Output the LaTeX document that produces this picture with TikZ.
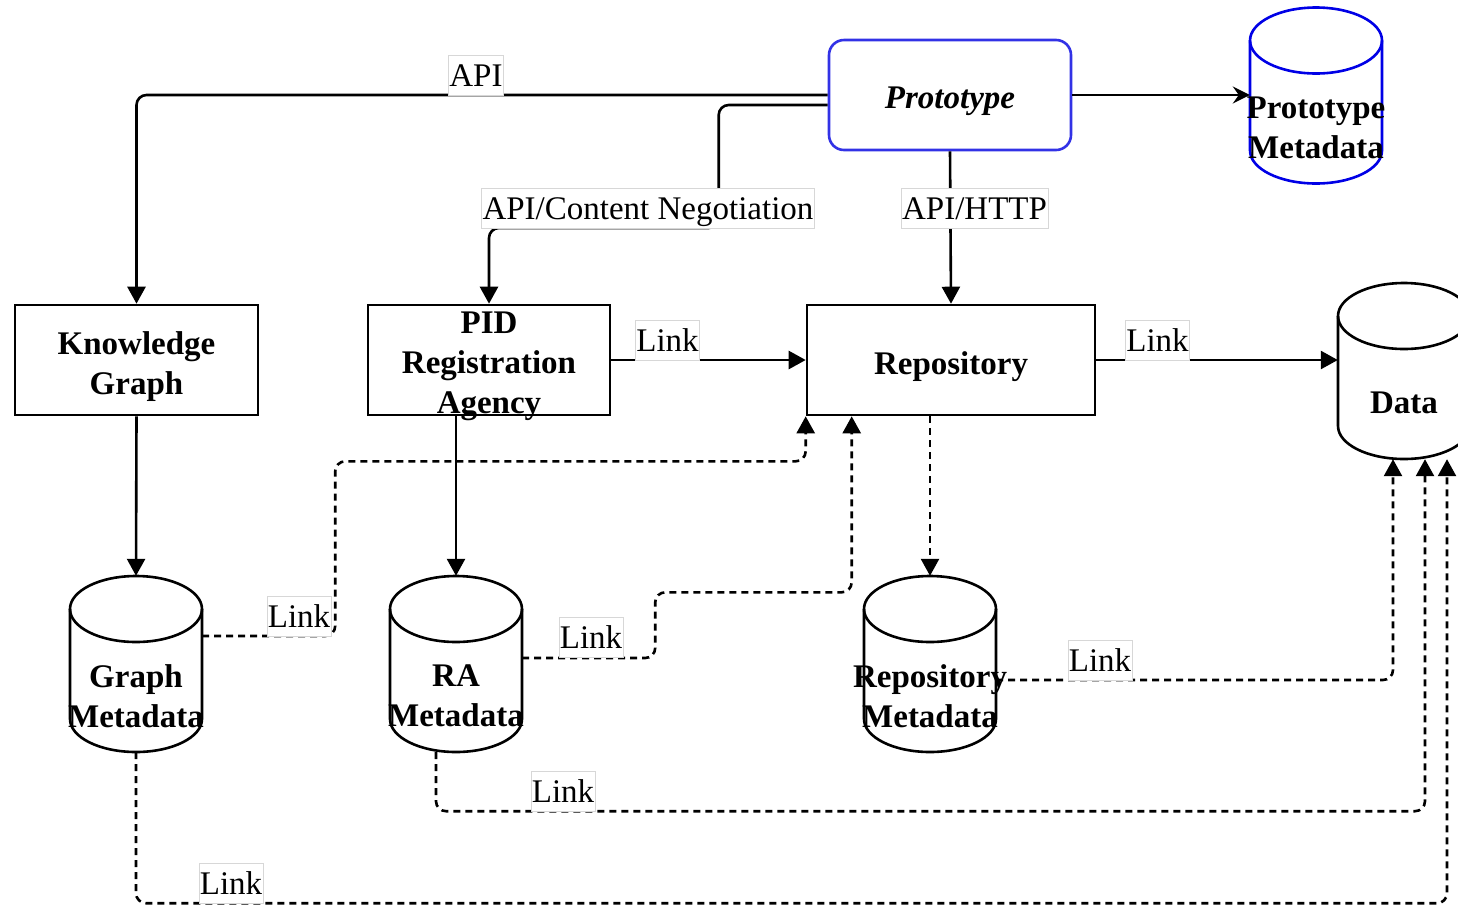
\documentclass[tikz,border=0pt]{standalone}
\usepackage{fontspec}
\setmainfont{Liberation Serif}
\usetikzlibrary{arrows.meta,calc}
\pgfdeclarelayer{bg}
\pgfsetlayers{bg,main}
\definecolor{protoblue}{RGB}{50,50,230}
\definecolor{cylblue}{RGB}{0,0,230}
\definecolor{lblgray}{RGB}{215,215,215}
\newcommand\cylout[2]{%
  \begin{pgfonlayer}{bg}
  \draw[line width=2.6pt,#2] ($(#1.center)+(0,55)$) ellipse [x radius=66pt,y radius=33pt];
  \draw[line width=2.6pt,#2] ($(#1.center)+(-66,55)$) -- ($(#1.center)+(-66,-55)$)
     arc[start angle=180,end angle=360,x radius=66pt,y radius=33pt] -- ($(#1.center)+(66,55)$);
  \end{pgfonlayer}}
\tikzset{
  boxnode/.style={draw, line width=2.6pt, inner sep=0pt, minimum height=110pt},
  boxtext/.style={font=\bfseries\fontsize{33}{40}\selectfont, align=center, inner sep=0pt, yshift=-6.5pt},
  cylbody/.style={draw=none, inner sep=0pt, minimum width=132pt, minimum height=176pt},
  cyltext/.style={font=\bfseries\fontsize{33}{40}\selectfont, align=center, inner sep=0pt, yshift=-32pt},
  lbl/.style={draw=lblgray, line width=0.6pt, fill=white, font=\fontsize{33}{40}\selectfont,
    inner xsep=1pt, inner ysep=0pt, text height=31pt, text depth=9pt, outer sep=0pt, anchor=south},
  conn/.style={line width=2.6pt, -{Triangle[width=18pt,length=17pt]}},
  bent/.style={rounded corners=10pt},
  dconn/.style={conn, dash pattern=on 7pt off 5pt},
}
\begin{document}
\begin{tikzpicture}[x=1pt,y=1pt]
\useasboundingbox (0,0) rectangle (1458,-906);

% main nodes
\node[boxnode, draw=protoblue, rounded corners=15pt, minimum width=242pt,
  label={[boxtext, font=\bfseries\itshape\fontsize{33}{40}\selectfont, name=prototext]center:{Prototype}}] (proto) at (950,-95) {};
\node[boxnode, minimum width=243pt, label={[boxtext,name=kgtext]center:{Knowledge\\Graph}}] (kg) at (136.5,-360) {};
\node[boxnode, minimum width=242pt, label={[boxtext,name=pidtext]center:{PID\\Registration\\Agency}}] (pid) at (489,-360) {};
\node[boxnode, minimum width=288pt, label={[boxtext,name=repotext]center:{Repository}}] (repo) at (951,-360) {};

% cylinders
\node[cylbody, label={[cyltext,name=pmtext]center:{Prototype\\Metadata}}] (pm) at (1316,-95.5) {};
\cylout{pm}{cylblue}
\node[cylbody, label={[cyltext,name=datatext]center:{Data}}] (data) at (1404,-371) {};
\cylout{data}{black}
\node[cylbody, label={[cyltext,name=gmtext]center:{Graph\\Metadata}}] (gm) at (136,-664) {};
\cylout{gm}{black}
\node[cylbody, label={[cyltext,name=ratext]center:{RA\\Metadata}}] (ra) at (456,-664) {};
\cylout{ra}{black}
\node[cylbody, label={[cyltext,name=rmtext]center:{Repository\\Metadata}}] (rm) at (930,-664) {};
\cylout{rm}{black}

% solid connectors
\draw[conn] (proto.west) [bent] -| (kg.north);
\draw[conn] ([yshift=-10pt]proto.west) [bent] -- ++(-109pt,0) -- ++(0,-123pt) -| (pid.north);
\draw[conn] (proto.south) -- (repo.north);
\draw[line width=2.6pt, -{Stealth[length=17pt,width=17pt,inset=6pt]}] (proto.east) -- (proto.east -| pm.west);
\draw[conn] (pid.east) -- (repo.west);
\draw[conn] (repo.east) -- (repo.east -| data.west);
\draw[conn] (kg.south) -- (gm.north);
\draw[conn] ([xshift=-33pt]pid.south) -- (ra.north);

% dashed connectors
\draw[dconn] ([xshift=-21pt]repo.south) -- (rm.north);
\draw[dconn] ([yshift=28pt]gm.east) [bent] -- ++(133pt,0) |- ([yshift=-45pt]repo.south west) [sharp corners] -- (repo.south west);
\draw[dconn] ([yshift=6pt]ra.east) [bent] -- ++(133pt,0) |- ([shift={(46pt,-176pt)}]repo.south west) [sharp corners] -- ([xshift=46pt]repo.south west);
\draw[dconn] ([yshift=-16pt]rm.east) [bent] -| ([xshift=-11pt]data.south);
\draw[dconn] ([xshift=-20pt]ra.south) [bent] -- ++(0,-59pt) -| ([xshift=21pt]data.south);
\draw[dconn] (gm.south) [bent] -- ++(0,-151pt) -| ([xshift=43pt]data.south);

% labels
\node[lbl] (lapi) at (476,-95) {API};
\node[lbl] (lacn) at (648,-228) {API/Content Negotiation};
\node[lbl] (lhttp) at (974.5,-228) {API/HTTP};
\node[lbl] (l1) at (667.5,-360) {Link};
\node[lbl] (l2) at (1157.5,-360) {Link};
\node[lbl] (l3) at (299,-636) {Link};
\node[lbl] (l4) at (591,-657) {Link};
\node[lbl] (l5) at (1100,-680) {Link};
\node[lbl] (l6) at (563,-811) {Link};
\node[lbl] (l7) at (231,-903) {Link};
\end{tikzpicture}
\end{document}
